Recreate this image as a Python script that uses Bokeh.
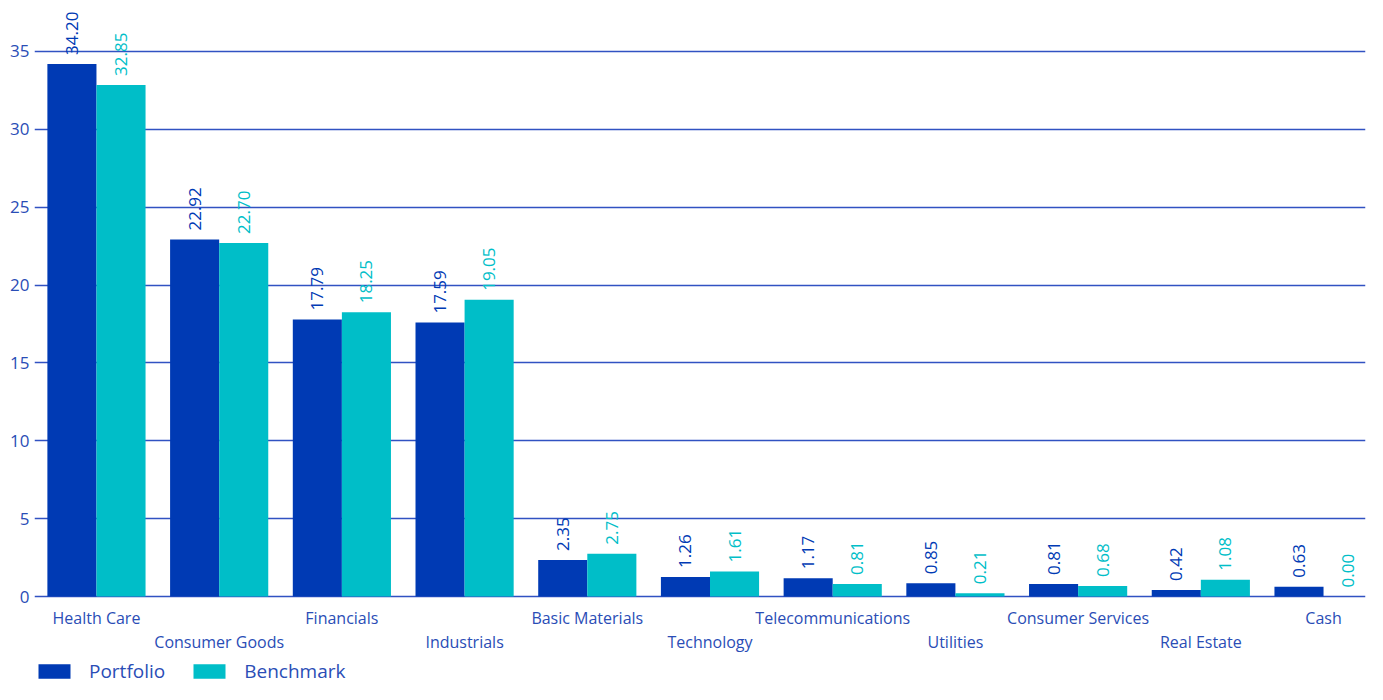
import math
from bokeh.plotting import figure
from bokeh.models import (ColumnDataSource, FixedTicker, LabelSet, Legend, LegendItem)
from bokeh.core.properties import value
from bokeh.embed import file_html
from bokeh.resources import INLINE

categories = ["Health Care", "Consumer Goods", "Financials", "Industrials",
              "Basic Materials", "Technology", "Telecommunications", "Utilities",
              "Consumer Services", "Real Estate", "Cash"]
portfolio = [34.20, 22.92, 17.79, 17.59, 2.35, 1.26, 1.17, 0.85, 0.81, 0.42, 0.63]
benchmark = [32.85, 22.70, 18.25, 19.05, 2.75, 1.61, 0.81, 0.21, 0.68, 1.08, 0.00]
y_ticks = [0, 5, 10, 15, 20, 25, 30, 35]
series_names = ["Portfolio", "Benchmark"]

BLUE = "#003AB4"
CYAN = "#00BEC8"
TEXT = "#2A4DB6"
GRID = "#3152C2"
FONT = "Open Sans"

n = len(categories)
idx = list(range(n))
bar_w = 0.4

src_p = ColumnDataSource(dict(x=[i - bar_w / 2 for i in idx], top=portfolio,
                              label=[f"{v:.2f}" for v in portfolio]))
src_b = ColumnDataSource(dict(x=[i + bar_w / 2 for i in idx], top=benchmark,
                              label=[f"{v:.2f}" for v in benchmark]))
src_c1 = ColumnDataSource(dict(x=idx[0::2], y=[0] * len(idx[0::2]), name=categories[0::2]))
src_c2 = ColumnDataSource(dict(x=idx[1::2], y=[0] * len(idx[1::2]), name=categories[1::2]))

# frame covers the whole canvas height; the area below 0 holds category labels and legend
p = figure(width=1367, height=684, x_range=(-0.505, n - 1 + 0.342), y_range=(-5.65, 38.27),
           output_backend="svg", toolbar_location=None, x_axis_location=None,
           min_border_left=34, min_border_right=2, min_border_top=0,
           min_border_bottom=0)
p.outline_line_color = None
p.background_fill_color = "white"
p.border_fill_color = "white"

r1 = p.vbar(x="x", top="top", width=bar_w, source=src_p, fill_color=BLUE, line_color=None)
r2 = p.vbar(x="x", top="top", width=bar_w, source=src_b, fill_color=CYAN, line_color=None)

# grid
for g in p.xgrid:
    g.visible = False
p.ygrid.ticker = FixedTicker(ticks=y_ticks)
p.ygrid.grid_line_color = GRID
p.ygrid.grid_line_width = 1.3

# y axis
p.yaxis.ticker = FixedTicker(ticks=y_ticks)
p.yaxis.axis_line_color = None
p.yaxis.major_tick_line_color = None
p.yaxis.minor_tick_line_color = None
p.yaxis.major_tick_out = 0
p.yaxis.major_tick_in = 0
p.yaxis.major_label_text_font = FONT
p.yaxis.major_label_text_font_size = "17px"
p.yaxis.major_label_text_color = TEXT
p.yaxis.major_label_standoff = 5

# category labels, staggered in two rows
for src, off in ((src_c1, -21), (src_c2, -45)):
    p.add_layout(LabelSet(x="x", y="y", text="name", source=src, y_offset=off,
                          text_align="center", text_baseline="middle",
                          text_font=value(FONT), text_font_size="16px",
                          text_color=TEXT))

# value labels
for src, col in ((src_p, BLUE), (src_b, CYAN)):
    p.add_layout(LabelSet(x="x", y="top", text="label", source=src, angle=math.pi / 2,
                          text_align="left", text_baseline="middle", y_offset=9,
                          text_font=value(FONT), text_font_size="17px", text_color=col))

legend = Legend(items=[LegendItem(label=series_names[0], renderers=[r1]),
                       LegendItem(label=series_names[1], renderers=[r2])],
                orientation="horizontal", location=(0, 0),
                glyph_width=40, glyph_height=18, label_standoff=15, spacing=24,
                padding=0, margin=0, border_line_color=None,
                background_fill_alpha=0,
                label_text_font=FONT, label_text_font_size="19px",
                label_text_color=TEXT)
p.add_layout(legend, "center")

open("out.html", "w").write(file_html(p, INLINE))
